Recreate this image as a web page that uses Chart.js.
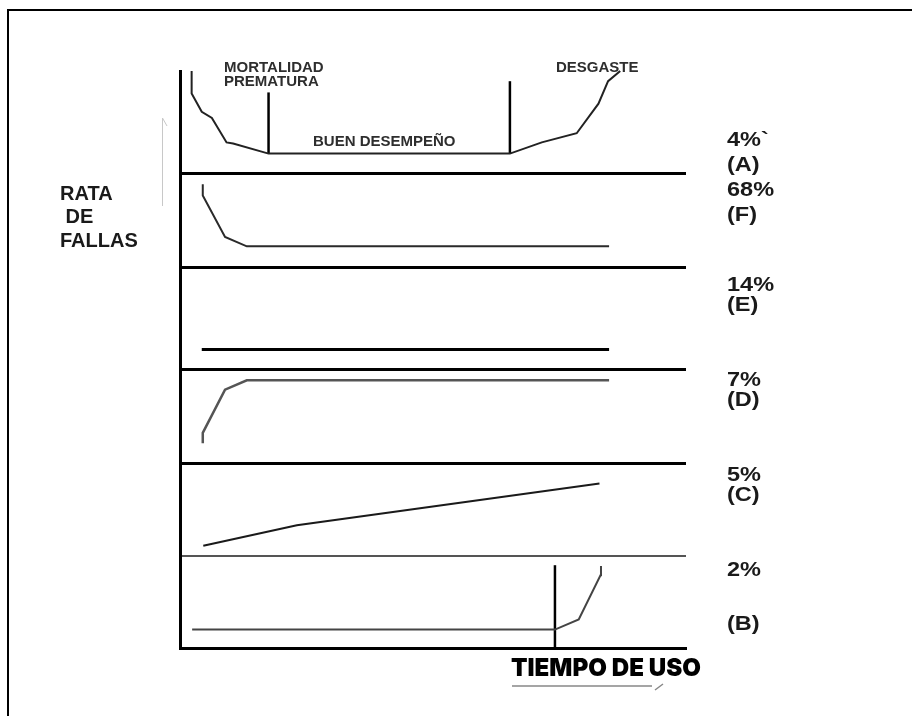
<!DOCTYPE html>
<html>
<head>
<meta charset="utf-8">
<script src="https://cdn.jsdelivr.net/npm/chart.js@4/dist/chart.umd.min.js"></script>
<style>
  html, body { margin: 0; padding: 0; background: #fff; }
  #wrap { width: 912px; height: 716px; }
</style>
</head>
<body>
<div id="wrap"><canvas id="myChart" width="912" height="716"></canvas></div>
<script>
// Panels from top to bottom, with the share of each failure pattern
const panelLetters = ['A', 'F', 'E', 'D', 'C', 'B'];
const panelShares = ['4%`', '68%', '14%', '7%', '5%', '2%'];

// Curves: time of use (0-100) against failure rate (0-10 inside each panel)
const timeA = [2.3, 2.3, 4.3, 6.3, 9.2, 10.5, 17.5, 65.2, 71.5, 78.4, 82.7, 84.6, 87];
const rateA = [10, 7.8, 6.0, 5.4, 3.0, 2.9, 1.9, 1.9, 3.0, 3.9, 6.8, 9.0, 10];
const timeF = [4.5, 4.5, 8.9, 13.2, 84.8];
const rateF = [8.8, 7.6, 3.2, 2.2, 2.2];
const timeE = [4.3, 84.8];
const rateE = [1.9, 1.9];
const timeD = [4.5, 4.5, 8.9, 13.2, 84.8];
const rateD = [2.1, 3.2, 7.8, 8.8, 8.8];
const timeC = [4.6, 23.1, 82.9];
const rateC = [1.1, 3.3, 7.8];
const timeB = [2.4, 74.1, 78.8, 83.1, 83.2];
const rateB = [2.0, 2.0, 3.1, 7.9, 8.9];

// Phase boundaries (time, bottom rate, top rate)
const phaseTimeA = [17.5, 65.2];
const phaseLowA = [1.9, 1.9];
const phaseHighA = [7.9, 9.0];
const phaseTimeB = [74.1];
const phaseLowB = [0];
const phaseHighB = [9.0];

function pts(xs, ys) {
  return xs.map((x, i) => ({x: x, y: ys[i]}));
}

function curve(xs, ys, axis, color, width) {
  return {
    data: pts(xs, ys),
    yAxisID: axis,
    showLine: true,
    borderColor: color,
    borderWidth: width,
    pointRadius: 0,
    tension: 0,
    clip: false
  };
}

const datasets = [
  curve(timeA, rateA, 'yA', '#222', 2),
  curve(timeF, rateF, 'yF', '#2a2a2a', 2),
  curve(timeE, rateE, 'yE', '#000', 3),
  curve(timeD, rateD, 'yD', '#555', 2.5),
  curve(timeC, rateC, 'yC', '#1a1a1a', 2),
  curve(timeB, rateB, 'yB', '#444', 2)
];
phaseTimeA.forEach((t, i) => {
  datasets.push(curve([t, t], [phaseLowA[i], phaseHighA[i]], 'yA', '#000', 2.5));
});
phaseTimeB.forEach((t, i) => {
  datasets.push(curve([t, t], [phaseLowB[i], phaseHighB[i]], 'yB', '#000', 2.5));
});

// heights of the panels, top to bottom
const panelWeights = [102, 94, 102, 94, 93, 92];
const sepColors = ['#000', '#000', '#000', '#000', '#555', 'transparent'];

const scales = {
  x: {
    type: 'linear', min: 0, max: 100,
    ticks: { display: false },
    grid: { display: false, drawTicks: false },
    border: { color: '#000', width: 3 }
  }
};
panelLetters.forEach((p, i) => {
  scales['y' + p] = {
    type: 'linear', min: 0, max: 10,
    position: 'left',
    stack: 'panels',
    stackWeight: panelWeights[i],
    weight: panelLetters.length - i,
    ticks: { display: false, stepSize: 10 },
    grid: {
      drawTicks: false,
      color: ctx => ctx.index === 0 ? sepColors[i] : 'transparent',
      lineWidth: i === 4 ? 2 : 3
    },
    border: { color: '#000', width: 3 }
  };
});

const textPlugin = {
  id: 'texts',
  beforeDraw(chart) {
    const c = chart.ctx;
    c.save();
    c.fillStyle = '#fff';
    c.fillRect(0, 0, chart.width, chart.height);
    // outer frame
    c.strokeStyle = '#000';
    c.lineWidth = 2;
    c.beginPath();
    c.moveTo(912, 10);
    c.lineTo(8, 10);
    c.lineTo(8, 716);
    c.stroke();
    // faint arrow next to the axis
    c.strokeStyle = '#c8c8c8';
    c.lineWidth = 1;
    c.beginPath();
    c.moveTo(162.5, 206);
    c.lineTo(162.5, 118);
    c.lineTo(167, 126);
    c.stroke();
    c.restore();
  },
  afterDraw(chart) {
    const c = chart.ctx;
    c.save();
    c.textBaseline = 'alphabetic';
    c.textAlign = 'left';

    // left title
    c.fillStyle = '#1a1a1a';
    c.font = 'bold 20px "Liberation Sans", Arial, sans-serif';
    c.fillText('RATA', 60, 200);
    c.fillText(' DE', 60, 223);
    c.fillText('FALLAS', 60, 247);

    // phase names in panel A
    c.fillStyle = '#2e2e2e';
    c.font = 'bold 15px "Liberation Sans", Arial, sans-serif';
    c.fillText('MORTALIDAD', 224, 72);
    c.fillText('PREMATURA', 224, 86);
    c.fillText('DESGASTE', 556, 72);
    c.fillText('BUEN DESEMPEÑO', 313, 146);

    // shares on the right
    const shareBase = [146, 196, 291, 386, 481, 576];
    const letterBase = [171, 221, 311, 406, 501, 630];
    c.fillStyle = '#1a1a1a';
    c.font = 'bold 21px "Liberation Sans", Arial, sans-serif';
    panelLetters.forEach((p, i) => {
      c.save();
      c.translate(727, 0);
      c.scale(1.12, 1);
      c.fillText(panelShares[i], 0, shareBase[i]);
      c.fillText('(' + p + ')', 0, letterBase[i]);
      c.restore();
    });

    // x title
    c.fillStyle = '#000';
    c.font = '900 25px Inter, "Liberation Sans", sans-serif';
    c.save();
    c.translate(511, 676);
    const w = c.measureText('TIEMPO DE USO').width;
    c.scale(190 / w, 1);
    c.fillText('TIEMPO DE USO', 0, 0);
    c.restore();
    c.strokeStyle = '#888';
    c.lineWidth = 1.5;
    c.beginPath();
    c.moveTo(512, 686);
    c.lineTo(652, 686);
    c.moveTo(655, 690);
    c.lineTo(663, 684);
    c.stroke();
    c.restore();
  }
};

new Chart(document.getElementById('myChart'), {
  type: 'scatter',
  data: { datasets: datasets },
  options: {
    responsive: false,
    animation: false,
    layout: { padding: { left: 180, top: 71, right: 226, bottom: 68 } },
    plugins: { legend: { display: false }, tooltip: { enabled: false } },
    scales: scales
  },
  plugins: [textPlugin]
});
</script>
</body>
</html>
